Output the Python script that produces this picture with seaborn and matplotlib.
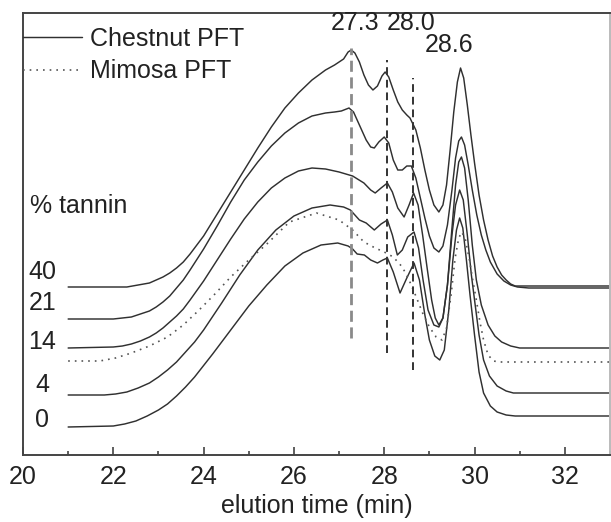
import matplotlib
matplotlib.use("Agg")
import matplotlib.pyplot as plt
from matplotlib.ticker import MultipleLocator
import pandas as pd
import seaborn as sns

# elution time (min) / detector signal (arb. units)
t_40 = [21, 22, 22.3, 22.55, 22.8, 22.95, 23.1, 23.25, 23.4, 23.55, 23.7, 24.0, 24.3, 24.6, 24.9, 25.2,
        25.5, 25.8, 26.1, 26.4, 26.7, 26.9, 27.1, 27.2, 27.27, 27.35, 27.45, 27.55, 27.65, 27.75,
        27.85, 27.95, 28.02, 28.1, 28.2, 28.3, 28.4, 28.5, 28.57, 28.7, 28.8, 28.9, 29.0, 29.1,
        29.21, 29.3, 29.38, 29.46, 29.54, 29.62, 29.69, 29.76, 29.84, 29.92, 30.0, 30.1, 30.2, 30.3,
        30.4, 30.5, 30.6, 30.7, 30.8, 30.9, 31.1, 33]
sig_40 = [168, 168, 168, 170, 172, 175, 178, 182, 187, 193, 201, 219, 241, 263, 285, 307,
          328, 347, 362, 375, 385, 390, 396, 403, 405, 402, 393, 380, 370, 365,
          369, 379, 383, 378, 365, 353, 345, 340, 337, 325, 307, 285, 265, 250,
          243, 250, 270, 305, 343, 373, 387, 377, 350, 320, 292, 260, 235, 215,
          199, 188, 180, 175, 171, 169, 169, 169]

t_21 = [21, 22, 22.2, 22.4, 22.6, 22.8, 22.95, 23.1, 23.25, 23.4, 23.55, 23.7, 24.0, 24.3, 24.6, 24.9,
        25.2, 25.5, 25.8, 26.1, 26.4, 26.7, 26.9, 27.05, 27.22, 27.32, 27.45, 27.6, 27.7, 27.78,
        27.88, 28.0, 28.1, 28.2, 28.3, 28.4, 28.5, 28.6, 28.7, 28.8, 28.9, 29.0, 29.1, 29.21,
        29.3, 29.4, 29.5, 29.58, 29.65, 29.71, 29.78, 29.86, 29.95, 30.05, 30.15, 30.25, 30.35, 30.5,
        30.65, 30.8, 30.95, 31.2, 33]
sig_21 = [136, 136, 137, 138, 141, 144, 148, 153, 159, 167, 175, 185, 206, 229, 253, 275,
          293, 309, 322, 332, 339, 342, 343, 344, 347, 343, 330, 315, 308, 307,
          313, 318, 312, 295, 285, 285, 289, 289, 277, 257, 237, 219, 207, 203,
          209, 230, 265, 297, 314, 318, 310, 290, 265, 240, 220, 205, 193, 181,
          174, 170, 168, 167, 167]

t_14 = [21, 22, 22.2, 22.4, 22.6, 22.8, 22.95, 23.1, 23.25, 23.4, 23.55, 23.7, 24.0, 24.3, 24.6, 24.9,
        25.2, 25.5, 25.8, 26.1, 26.4, 26.7, 27.0, 27.3, 27.55, 27.7, 27.8, 27.93, 28.07, 28.18,
        28.3, 28.44, 28.55, 28.65, 28.75, 28.85, 28.95, 29.05, 29.13, 29.21, 29.3, 29.4, 29.5, 29.58,
        29.65, 29.71, 29.78, 29.86, 29.95, 30.04, 30.15, 30.3, 30.45, 30.6, 30.8, 31.0, 33]
sig_14 = [107, 108, 109, 111, 114, 118, 122, 127, 133, 139, 146, 155, 174, 195, 216, 236,
          253, 267, 277, 284, 287, 286, 283, 279, 272, 265, 262, 267, 272, 263,
          247, 238, 250, 262, 250, 220, 187, 155, 137, 130, 137, 170, 227, 270,
          293, 298, 287, 255, 210, 175, 150, 130, 119, 113, 109, 107, 107]

t_4 = [21, 21.8, 22.05, 22.3, 22.55, 22.8, 23.0, 23.2, 23.4, 23.6, 23.8, 24.0, 24.4, 24.8, 25.2, 25.6,
       26.0, 26.4, 26.8, 27.1, 27.25, 27.35, 27.45, 27.6, 27.78, 27.93, 28.07, 28.18, 28.29, 28.4,
       28.52, 28.66, 28.76, 28.86, 28.97, 29.1, 29.21, 29.3, 29.4, 29.5, 29.58, 29.67, 29.75, 29.84,
       29.93, 30.0, 30.1, 30.2, 30.33, 30.5, 30.7, 30.86, 33]
sig_4 = [60, 60, 61, 63, 67, 72, 78, 85, 93, 103, 113, 125, 152, 180, 205, 225,
         239, 247, 250, 248, 245, 240, 235, 232, 225, 231, 235, 220, 200, 205,
         218, 223, 207, 175, 145, 130, 128, 137, 170, 220, 250, 265, 255, 220,
         180, 155, 120, 95, 79, 69, 64, 62, 62]

t_0 = [21, 22.0, 22.25, 22.5, 22.75, 23.0, 23.2, 23.4, 23.6, 23.8, 24.2, 24.6, 25.0, 25.4, 25.8, 26.2,
       26.6, 26.97, 27.2, 27.3, 27.4, 27.56, 27.7, 27.85, 27.97, 28.07, 28.2, 28.35, 28.5, 28.66,
       28.78, 28.9, 29.0, 29.12, 29.23, 29.33, 29.43, 29.52, 29.6, 29.67, 29.74, 29.82, 29.9, 30.0,
       30.1, 30.2, 30.35, 30.5, 30.7, 30.9, 33]
sig_0 = [28, 29, 31, 34, 39, 45, 51, 59, 68, 78, 101, 125, 149, 170, 189, 202,
         210, 212, 209, 206, 201, 200, 195, 192, 195, 197, 183, 162, 177, 192,
         175, 140, 115, 99, 95, 105, 145, 195, 225, 237, 227, 195, 160, 120,
         83, 62, 49, 43, 40, 39, 39]

t_mimosa = [21, 21.7, 22.05, 22.4, 22.8, 23.2, 23.55, 23.9, 24.25, 24.6, 25.0, 25.4, 25.9, 26.5, 27.0,
            27.3, 27.55, 27.8, 28.0, 28.2, 28.4, 28.55, 28.7, 28.85, 29.0, 29.15, 29.28, 29.38, 29.48,
            29.57, 29.65, 29.72, 29.8, 29.88, 29.96, 30.04, 30.12, 30.2, 30.3, 30.42, 30.55, 33]
sig_mimosa = [94, 94, 97, 102, 109, 118, 130, 145, 161, 178, 195, 211, 233, 242, 235,
              225, 213, 207, 203, 198, 188, 175, 159, 142, 128, 118, 115, 127, 160,
              197, 217, 223, 215, 197, 175, 155, 133, 115, 100, 94, 93, 93]

tannin_levels = ["40", "21", "14", "4", "0"]
tannin_label_y = [183, 152, 113, 70, 35]

peak_labels = ["27.3", "28.0", "28.6"]
peak_times = [27.27, 28.07, 28.64]
peak_line_top = [407, 395, 377]
peak_line_bottom = [117, 102, 85]

chestnut = {"40": (t_40, sig_40), "21": (t_21, sig_21), "14": (t_14, sig_14),
            "4": (t_4, sig_4), "0": (t_0, sig_0)}

sns.set_style("ticks")
plt.rcParams['font.family'] = ['Liberation Sans', 'DejaVu Sans']

fig = plt.figure(figsize=(6.11, 5.22), dpi=100)
ax = fig.add_axes([23 / 611, 67 / 522, 587 / 611, 442 / 522])

line_col = "#303030"
for i, (level, (t, s)) in enumerate(chestnut.items()):
    df = pd.DataFrame({"time": t, "signal": s})
    sns.lineplot(data=df, x="time", y="signal", ax=ax, color=line_col, linewidth=1.05,
                 label="Chestnut PFT" if i == 0 else None, legend=False)

df_m = pd.DataFrame({"time": t_mimosa, "signal": sig_mimosa})
sns.lineplot(data=df_m, x="time", y="signal", ax=ax, color="#555555", linewidth=1.2,
             linestyle=(0, (1, 3)), label="Mimosa PFT", legend=False)

# dashed markers for the fraction peaks
ax.vlines(peak_times[0], peak_line_bottom[0], peak_line_top[0], colors="#8a8a8a",
          linewidth=2.0, linestyles=(0, (4, 2)))
ax.vlines(peak_times[1:], peak_line_bottom[1:], peak_line_top[1:], colors="#333333",
          linewidth=1.4, linestyles=(0, (4, 2.5)))

ax.text(27.36, 432, peak_labels[0], ha="center", va="center", fontsize=18, color="#222222")
ax.text(28.59, 432, peak_labels[1], ha="center", va="center", fontsize=18, color="#222222")
ax.text(29.43, 410, peak_labels[2], ha="center", va="center", fontsize=18, color="#222222")

ax.text(20.15, 249, "% tannin", ha="left", va="center", fontsize=18, color="#222222")
for lab, y in zip(tannin_levels, tannin_label_y):
    ax.text(20.43, y, lab, ha="center", va="center", fontsize=18, color="#222222")

leg = ax.legend(loc="upper left", bbox_to_anchor=(0, 0.968), frameon=False, fontsize=18,
                borderaxespad=0, borderpad=0, handlelength=2.35, handletextpad=0.32,
                labelspacing=0.33)
for txt in leg.get_texts():
    txt.set_color("#222222")

ax.set_xlim(20, 33)
ax.set_ylim(0, 442)
ax.set_yticks([])
ax.set_ylabel("")
ax.xaxis.set_major_locator(MultipleLocator(2))
ax.xaxis.set_minor_locator(MultipleLocator(1))
ax.tick_params(axis="x", which="major", direction="in", length=6, width=1.1, colors="#333333",
               labelsize=18, labelcolor="#222222", pad=7)
ax.tick_params(axis="x", which="minor", direction="in", length=3, width=1.1, colors="#333333")
ax.set_xlabel("elution time (min)", fontsize=18, color="#222222", labelpad=4)
for sp in ax.spines.values():
    sp.set_visible(True)
    sp.set_color("#444444")
    sp.set_linewidth(1.4)
ax.spines["right"].set_color("#bbbbbb")

fig.savefig("out.png", dpi=100)
